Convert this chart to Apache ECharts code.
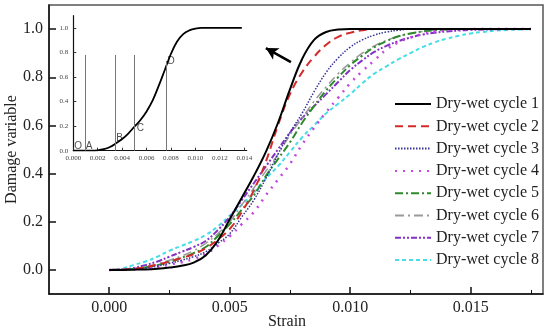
<!DOCTYPE html>
<html><head><meta charset="utf-8">
<script src="https://cdn.jsdelivr.net/npm/echarts@6/dist/echarts.min.js"></script>
<style>html,body{margin:0;padding:0;background:#fff}#c{width:550px;height:334px}</style>
</head><body><div id="c"></div>
<script>
// ---- data ----
const strain = [0,0.0005,0.001,0.0015,0.002,0.0025,0.003,0.0035,0.004,0.0045,0.005,0.0055,0.006,0.0065,0.007,0.0075,0.008,0.0085,0.009,0.0095,0.01,0.0105,0.011,0.0115,0.012,0.0125,0.013,0.0135,0.014,0.0145,0.015,0.0155,0.016,0.0165,0.017,0.0175];
const cycle1 = [0,0,0.001,0.002,0.005,0.01,0.017,0.03,0.06,0.12,0.21,0.3,0.39,0.49,0.61,0.75,0.875,0.955,0.988,0.998,1,1,1,1,1,1,1,1,1,1,1,1,1,1,1,1];
const cycle2 = [0,0.001,0.004,0.012,0.022,0.035,0.05,0.065,0.09,0.125,0.17,0.24,0.33,0.45,0.6,0.73,0.82,0.885,0.935,0.968,0.985,0.995,1,1,1,1,1,1,1,1,1,1,1,1,1,1];
const cycle3 = [0,0.001,0.003,0.008,0.016,0.027,0.04,0.055,0.075,0.11,0.15,0.22,0.29,0.38,0.48,0.57,0.65,0.74,0.82,0.88,0.925,0.955,0.975,0.988,0.995,1,1,1,1,1,1,1,1,1,1,1];
const cycle4 = [0,0.001,0.003,0.007,0.013,0.022,0.032,0.045,0.065,0.1,0.14,0.19,0.24,0.31,0.375,0.44,0.52,0.59,0.655,0.715,0.775,0.825,0.87,0.915,0.945,0.965,0.98,0.99,0.995,0.998,1,1,1,1,1,1];
const cycle5 = [0,0.001,0.004,0.01,0.02,0.033,0.05,0.07,0.095,0.14,0.19,0.25,0.31,0.39,0.46,0.53,0.61,0.68,0.745,0.8,0.85,0.89,0.925,0.95,0.97,0.982,0.99,0.995,0.998,1,1,1,1,1,1,1];
const cycle6 = [0,0.001,0.005,0.012,0.025,0.04,0.058,0.08,0.11,0.15,0.2,0.27,0.34,0.41,0.48,0.56,0.63,0.7,0.76,0.815,0.86,0.9,0.93,0.953,0.97,0.982,0.99,0.995,0.998,1,1,1,1,1,1,1];
const cycle7 = [0,0.002,0.008,0.02,0.035,0.055,0.075,0.095,0.12,0.165,0.22,0.29,0.36,0.43,0.5,0.57,0.63,0.68,0.73,0.78,0.83,0.87,0.905,0.93,0.95,0.965,0.977,0.985,0.99,0.994,0.997,0.998,0.999,1,1,1];
const cycle8 = [0,0.005,0.02,0.035,0.055,0.08,0.1,0.12,0.145,0.18,0.225,0.27,0.32,0.38,0.43,0.49,0.55,0.6,0.65,0.69,0.73,0.775,0.815,0.845,0.875,0.9,0.925,0.945,0.96,0.972,0.982,0.988,0.993,0.996,0.998,1];
const seriesNames = ['Dry-wet cycle 1','Dry-wet cycle 2','Dry-wet cycle 3','Dry-wet cycle 4','Dry-wet cycle 5','Dry-wet cycle 6','Dry-wet cycle 7','Dry-wet cycle 8'];
const xTickLabels = [0,0.005,0.01,0.015];
const xMinorTicks = [0.0025,0.0075,0.0125,0.0175];
const yTickLabels = [0,0.2,0.4,0.6,0.8,1.0];
// inset
const insetStrain = [0,0.0015,0.002,0.0025,0.003,0.0035,0.004,0.0045,0.005,0.0055,0.006,0.0065,0.007,0.0075,0.008,0.0085,0.009,0.0095,0.01,0.0105,0.0138];
const insetDamage = [0,0,0.003,0.012,0.03,0.06,0.095,0.14,0.195,0.25,0.32,0.41,0.53,0.66,0.79,0.89,0.95,0.98,0.995,1,1];
const insetXTicks = [0,0.002,0.004,0.006,0.008,0.010,0.012,0.014];
const insetYTicks = [0,0.2,0.4,0.6,0.8,1.0];
const stageStrain = [0.001,0.0034,0.005,0.0076];
const stageTop = [0.78,0.78,0.78,0.73];
const pointLabels = ['O','A','B','C','D'];
const pointStrain = [0.0004,0.0013,0.0038,0.0055,0.008];
const pointDamage = [0.04,0.04,0.10,0.185,0.73];
const arrowFrom = [0.00754,0.8625];
const arrowTo = [0.0065,0.921];

const cycles = [cycle1,cycle2,cycle3,cycle4,cycle5,cycle6,cycle7,cycle8];
const styles = [
  {color:'#000000', width:2, type:'solid'},
  {color:'#d42a2a', width:2, type:[8,5]},
  {color:'#34349a', width:1.5, type:[1.5,1.5]},
  {color:'#c545e0', width:2.5, type:[2,6]},
  {color:'#2c8a2c', width:2, type:[8,3,2,3]},
  {color:'#9a9a9a', width:1.5, type:[9,4,2,4]},
  {color:'#8232c4', width:2, type:[6,2,2,2,2,2]},
  {color:'#45dde6', width:2, type:[4,3]}
];
const serif = 'Liberation Serif, Times New Roman, serif';

const series = cycles.map((vals,i)=>({
  name: seriesNames[i], type:'line', xAxisIndex:0, yAxisIndex:0,
  data: strain.map((s,j)=>[s, vals[j]]),
  symbol:'circle', showSymbol:false, smooth:0.4,
  lineStyle: styles[i], itemStyle:{color: styles[i].color}, z: 10-i
}));
series[0].markLine = {
  silent:true, symbol:['none','arrow'], symbolSize:[10,12],
  lineStyle:{color:'#000', width:2.5, type:'solid'}, label:{show:false},
  data:[[{coord:arrowFrom},{coord:arrowTo}]]
};
series.push({
  name:'inset', type:'line', xAxisIndex:2, yAxisIndex:1,
  data: insetStrain.map((s,j)=>[s, insetDamage[j]]),
  symbol:'none', smooth:0.4,
  lineStyle:{color:'#000', width:1.8}, itemStyle:{color:'#000'},
  markLine:{silent:true, symbol:['none','none'], label:{show:false},
    lineStyle:{color:'#777', width:1, type:'solid'},
    data: stageStrain.map((s,i)=>[{coord:[s,0]},{coord:[s,stageTop[i]]}])}
});
series.push({
  name:'points', type:'scatter', xAxisIndex:2, yAxisIndex:1, symbolSize:1,
  itemStyle:{color:'rgba(0,0,0,0)'},
  data: pointLabels.map((n,i)=>({name:n, value:[pointStrain[i], pointDamage[i]]})),
  label:{show:true, position:'inside', formatter:'{b}', fontFamily:'Liberation Sans, Arial, sans-serif', fontSize:10, color:'#222'}
});

const chart = echarts.init(document.getElementById('c'), null, {renderer:'canvas'});
chart.setOption({
  animation:false,
  backgroundColor:'#fff',
  grid:[
    {left:49, top:5, right:7, bottom:40, show:true, borderColor:'#555', borderWidth:1.5, backgroundColor:'transparent', outerBoundsMode:'none', containLabel:false},
    {left:73.3, top:15.7, width:173.4, bottom:183.3, outerBoundsMode:'none', containLabel:false}
  ],
  legend:{
    data: seriesNames, orient:'vertical', left:389, top:91, itemWidth:36, itemHeight:14, itemGap:6.3,
    itemStyle:{opacity:0},
    textStyle:{fontFamily:serif, fontSize:16, color:'#222'}
  },
  xAxis:[
    {type:'value', gridIndex:0, min:-0.0025, max:0.018, name:'Strain', nameLocation:'middle', nameGap:20, nameMoveOverlap:false,
     nameTextStyle:{fontFamily:serif, fontSize:16, color:'#222', padding:[0,18,0,0]},
     axisLine:{show:true, onZero:false, lineStyle:{color:'#111', width:1.5}},
     axisTick:{show:true, inside:true, length:7, lineStyle:{color:'#111', width:1.5}, customValues:xTickLabels},
     axisLabel:{customValues:xTickLabels, formatter:v=>v.toFixed(3), fontFamily:serif, fontSize:16, color:'#222', margin:6},
     splitLine:{show:false}},
    {type:'value', gridIndex:0, min:-0.0025, max:0.018, position:'bottom',
     axisLine:{show:false, onZero:false},
     axisTick:{show:true, inside:true, length:4, lineStyle:{color:'#111', width:1}, customValues:xMinorTicks},
     axisLabel:{show:false}, splitLine:{show:false}},
    {type:'value', gridIndex:1, min:0, max:0.0142,
     axisLine:{show:true, onZero:false, lineStyle:{color:'#111', width:1.2}},
     axisTick:{show:true, inside:true, length:3, lineStyle:{color:'#333', width:1}, customValues:insetXTicks},
     axisLabel:{customValues:insetXTicks, formatter:v=>v.toFixed(3), fontFamily:serif, fontSize:7, color:'#444', margin:4},
     splitLine:{show:false}}
  ],
  yAxis:[
    {type:'value', gridIndex:0, min:-0.1, max:1.1, name:'Damage variable', nameLocation:'middle', nameGap:29, nameMoveOverlap:false,
     nameTextStyle:{fontFamily:serif, fontSize:16, color:'#222'},
     axisLine:{show:true, onZero:false, lineStyle:{color:'#111', width:1.5}},
     axisTick:{show:true, inside:true, length:7, lineStyle:{color:'#111', width:1.5}, customValues:yTickLabels},
     axisLabel:{customValues:yTickLabels, formatter:v=>v.toFixed(1), fontFamily:serif, fontSize:16, color:'#222', margin:6},
     splitLine:{show:false}},
    {type:'value', gridIndex:1, min:0, max:1.1,
     axisLine:{show:true, onZero:false, lineStyle:{color:'#111', width:1.2}},
     axisTick:{show:true, inside:true, length:3, lineStyle:{color:'#333', width:1}, customValues:insetYTicks},
     axisLabel:{customValues:insetYTicks, formatter:v=>v.toFixed(1), fontFamily:serif, fontSize:7, color:'#444', margin:5},
     splitLine:{show:false}}
  ],
  series: series
});
</script></body></html>
